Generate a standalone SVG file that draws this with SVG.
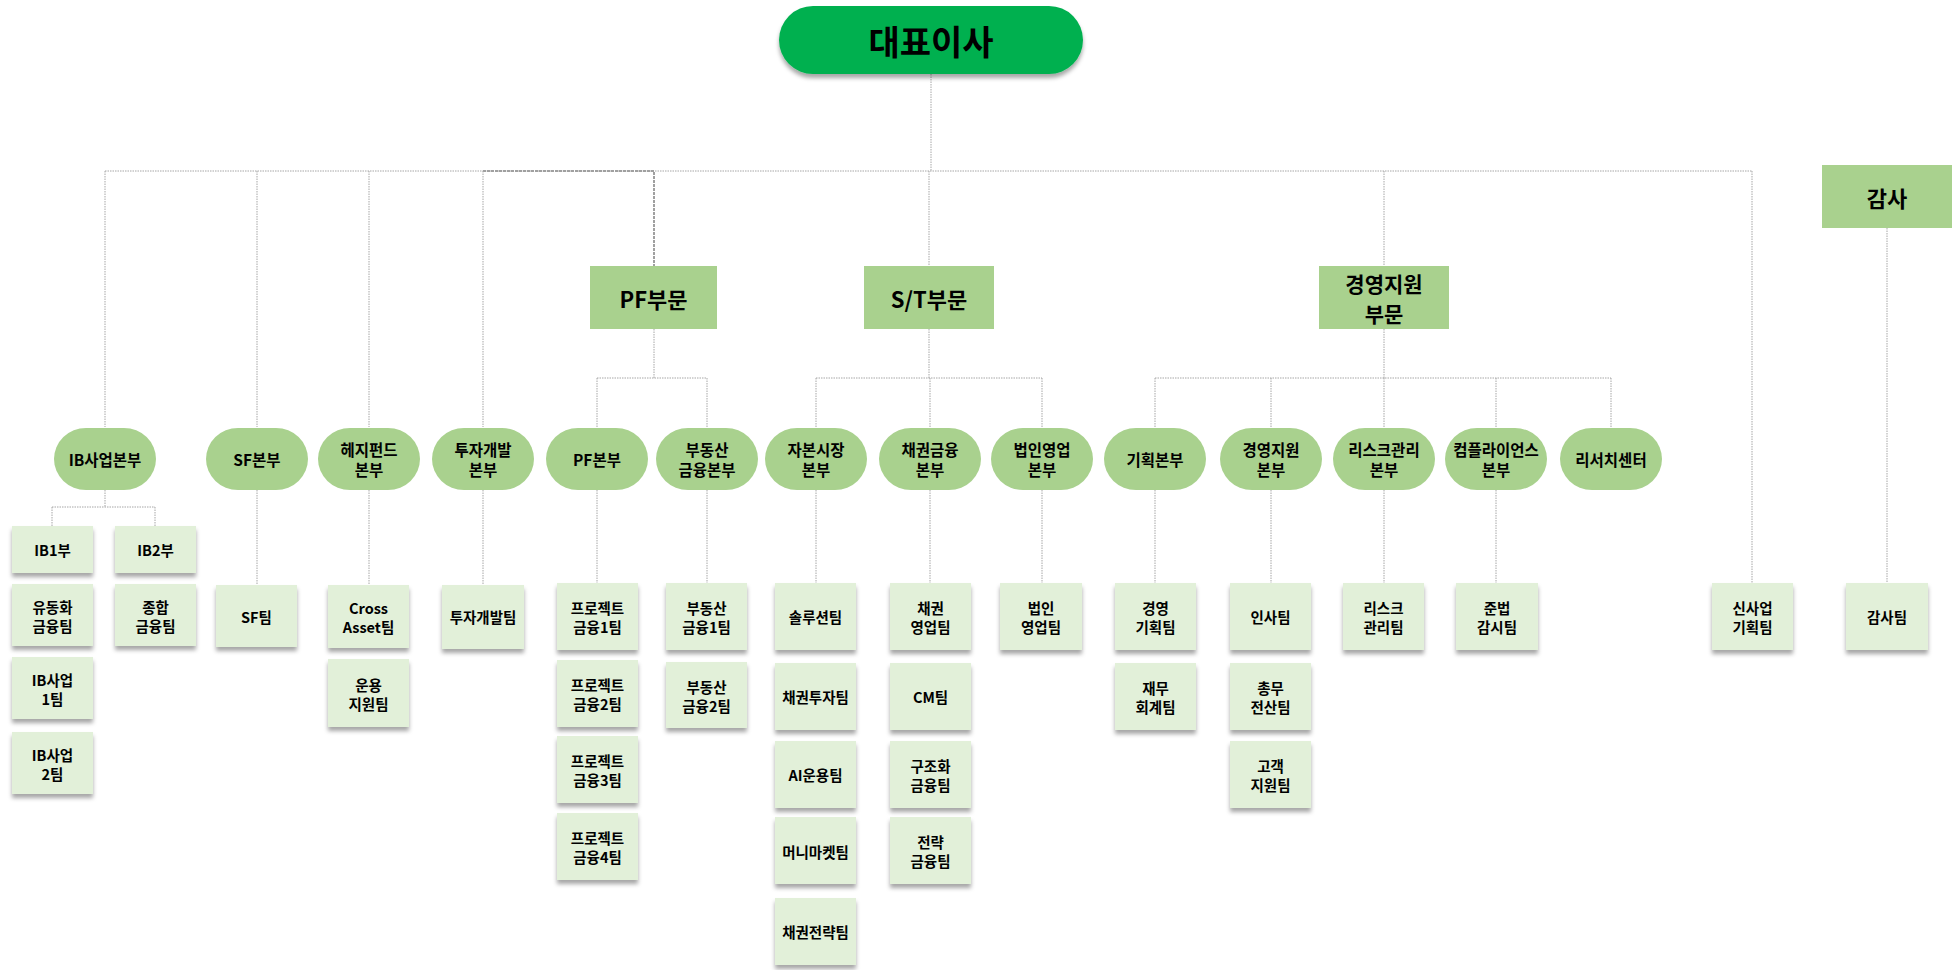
<svg xmlns="http://www.w3.org/2000/svg" width="1954" height="970" viewBox="0 0 1954 970">
<style>
text{font-family:"Noto Sans CJK KR","Malgun Gothic","Noto Sans",sans-serif;font-weight:bold;fill:#000;text-anchor:middle;dominant-baseline:central}
.ceo{fill:#00B050}
.div{fill:#A9D18E}
.pill{fill:#A9D18E}
.team{fill:#E2F0D9}
.t34{font-size:34px}
.t22{font-size:22px}
.t21{font-size:21px}
.t16{font-size:15.5px}
.t15{font-size:14.5px}
.ln{fill:none;stroke:#A6A6A6;stroke-width:1;stroke-dasharray:1.5 1}
.lnb{fill:none;stroke:#A0A0A0;stroke-width:2;stroke-dasharray:3 1}
</style>
<defs>
<filter id="sh" x="-20%" y="-20%" width="140%" height="150%">
<feDropShadow dx="0" dy="4" stdDeviation="2" flood-color="#000" flood-opacity="0.35"/>
</filter>
</defs>
<rect width="1954" height="970" fill="#fff"/>

<g id="connectors">
<path class="ln" d="M931 74V171M105 171H1752M105 171V427M257 171V427M369 171V427M929 171V266M1384 171V266M1752 171V583M1887 228V583"/>
<path class="lnb" d="M483 171H654V266"/>
<path class="ln" d="M483 171V427"/>
<path class="ln" d="M654 329V378M597 378H707M597 378V428M707 378V428"/>
<path class="ln" d="M929 329V378M816 378H1042M816 378V428M930 378V428M1042 378V428"/>
<path class="ln" d="M1384 329V378M1155 378H1611M1155 378V428M1271 378V428M1384 378V428M1496 378V428M1611 378V428"/>
<path class="ln" d="M105 490V507M52 507H155M52 507V526M155 507V526"/>
<path class="ln" d="M257 490V585M369 490V585M483 490V585M597 490V583M707 490V583M816 490V583M930 490V583M1042 490V583M1155 490V583M1271 490V583M1384 490V583M1496 490V583"/>
</g>

<g id="ceo"><rect class="ceo" x="779" y="6" width="304" height="68" rx="34" filter="url(#sh)"/><text class="t34" x="931" y="40">대표이사</text></g>

<g id="pf-division"><rect class="div" x="590" y="266" width="127" height="63"/><text class="t22" x="653.5" y="297.5">PF부문</text></g>
<g id="st-division"><rect class="div" x="864" y="266" width="130" height="63"/><text class="t22" x="929" y="297.5">S/T부문</text></g>
<g id="mgmt-division"><rect class="div" x="1319" y="266" width="130" height="63"/><text class="t21"><tspan x="1384" y="282.5">경영지원</tspan><tspan x="1384" y="312.5">부문</tspan></text></g>
<g id="audit"><rect class="div" x="1822" y="165" width="130" height="63"/><text class="t22" x="1887" y="196.5">감사</text></g>

<g id="ib-hq"><rect class="pill" x="54" y="428" width="102" height="62" rx="32" ry="31"/><text class="t16" x="105" y="459">IB사업본부</text></g>
<g id="sf-hq"><rect class="pill" x="206" y="428" width="102" height="62" rx="32" ry="31"/><text class="t16" x="257" y="459">SF본부</text></g>
<g id="hedge-hq"><rect class="pill" x="318" y="428" width="102" height="62" rx="32" ry="31"/><text class="t16"><tspan x="369" y="449">헤지펀드</tspan><tspan x="369" y="469">본부</tspan></text></g>
<g id="invest-hq"><rect class="pill" x="432" y="428" width="102" height="62" rx="32" ry="31"/><text class="t16"><tspan x="483" y="449">투자개발</tspan><tspan x="483" y="469">본부</tspan></text></g>
<g id="pf-hq"><rect class="pill" x="546" y="428" width="102" height="62" rx="32" ry="31"/><text class="t16" x="597" y="459">PF본부</text></g>
<g id="re-hq"><rect class="pill" x="656" y="428" width="102" height="62" rx="32" ry="31"/><text class="t16"><tspan x="707" y="449">부동산</tspan><tspan x="707" y="469">금융본부</tspan></text></g>
<g id="capital-hq"><rect class="pill" x="765" y="428" width="102" height="62" rx="32" ry="31"/><text class="t16"><tspan x="816" y="449">자본시장</tspan><tspan x="816" y="469">본부</tspan></text></g>
<g id="bond-hq"><rect class="pill" x="879" y="428" width="102" height="62" rx="32" ry="31"/><text class="t16"><tspan x="930" y="449">채권금융</tspan><tspan x="930" y="469">본부</tspan></text></g>
<g id="corp-hq"><rect class="pill" x="991" y="428" width="102" height="62" rx="32" ry="31"/><text class="t16"><tspan x="1042" y="449">법인영업</tspan><tspan x="1042" y="469">본부</tspan></text></g>
<g id="plan-hq"><rect class="pill" x="1104" y="428" width="102" height="62" rx="32" ry="31"/><text class="t16" x="1155" y="459">기획본부</text></g>
<g id="support-hq"><rect class="pill" x="1220" y="428" width="102" height="62" rx="32" ry="31"/><text class="t16"><tspan x="1271" y="449">경영지원</tspan><tspan x="1271" y="469">본부</tspan></text></g>
<g id="risk-hq"><rect class="pill" x="1333" y="428" width="102" height="62" rx="32" ry="31"/><text class="t16"><tspan x="1384" y="449">리스크관리</tspan><tspan x="1384" y="469">본부</tspan></text></g>
<g id="compliance-hq"><rect class="pill" x="1445" y="428" width="102" height="62" rx="32" ry="31"/><text class="t16"><tspan x="1496" y="449">컴플라이언스</tspan><tspan x="1496" y="469">본부</tspan></text></g>
<g id="research"><rect class="pill" x="1560" y="428" width="102" height="62" rx="32" ry="31"/><text class="t16" x="1611" y="459">리서치센터</text></g>

<g id="ib1"><rect class="team" x="12" y="526" width="81" height="47" filter="url(#sh)"/><text class="t15" x="52.5" y="549.5">IB1부</text></g>
<g id="ib2"><rect class="team" x="115" y="526" width="81" height="47" filter="url(#sh)"/><text class="t15" x="155.5" y="549.5">IB2부</text></g>
<g id="securitization"><rect class="team" x="12" y="584" width="81" height="62" filter="url(#sh)"/><text class="t15"><tspan x="52.5" y="605.5">유동화</tspan><tspan x="52.5" y="624.5">금융팀</tspan></text></g>
<g id="general-finance"><rect class="team" x="115" y="584" width="81" height="62" filter="url(#sh)"/><text class="t15"><tspan x="155.5" y="605.5">종합</tspan><tspan x="155.5" y="624.5">금융팀</tspan></text></g>
<g id="ib-team1"><rect class="team" x="12" y="657" width="81" height="62" filter="url(#sh)"/><text class="t15"><tspan x="52.5" y="678.5">IB사업</tspan><tspan x="52.5" y="697.5">1팀</tspan></text></g>
<g id="ib-team2"><rect class="team" x="12" y="732" width="81" height="62" filter="url(#sh)"/><text class="t15"><tspan x="52.5" y="753.5">IB사업</tspan><tspan x="52.5" y="772.5">2팀</tspan></text></g>

<g id="sf-team"><rect class="team" x="216" y="585" width="81" height="62" filter="url(#sh)"/><text class="t15" x="256.5" y="616">SF팀</text></g>
<g id="cross-asset"><rect class="team" x="328" y="585" width="81" height="63" filter="url(#sh)"/><text class="t15"><tspan x="368.5" y="607">Cross</tspan><tspan x="368.5" y="626">Asset팀</tspan></text></g>
<g id="ops-support"><rect class="team" x="328" y="659" width="81" height="68" filter="url(#sh)"/><text class="t15"><tspan x="368.5" y="683.5">운용</tspan><tspan x="368.5" y="702.5">지원팀</tspan></text></g>
<g id="invest-team"><rect class="team" x="442" y="585" width="82" height="64" filter="url(#sh)"/><text class="t15" x="483" y="616">투자개발팀</text></g>

<g id="pj1"><rect class="team" x="557" y="583" width="81" height="67" filter="url(#sh)"/><text class="t15"><tspan x="597.5" y="607">프로젝트</tspan><tspan x="597.5" y="626">금융1팀</tspan></text></g>
<g id="pj2"><rect class="team" x="557" y="660" width="81" height="67" filter="url(#sh)"/><text class="t15"><tspan x="597.5" y="684">프로젝트</tspan><tspan x="597.5" y="703">금융2팀</tspan></text></g>
<g id="pj3"><rect class="team" x="557" y="736" width="81" height="67" filter="url(#sh)"/><text class="t15"><tspan x="597.5" y="760">프로젝트</tspan><tspan x="597.5" y="779">금융3팀</tspan></text></g>
<g id="pj4"><rect class="team" x="557" y="813" width="81" height="67" filter="url(#sh)"/><text class="t15"><tspan x="597.5" y="837">프로젝트</tspan><tspan x="597.5" y="856">금융4팀</tspan></text></g>

<g id="re1"><rect class="team" x="666" y="583" width="81" height="67" filter="url(#sh)"/><text class="t15"><tspan x="706.5" y="607">부동산</tspan><tspan x="706.5" y="626">금융1팀</tspan></text></g>
<g id="re2"><rect class="team" x="666" y="662" width="81" height="66" filter="url(#sh)"/><text class="t15"><tspan x="706.5" y="686">부동산</tspan><tspan x="706.5" y="705">금융2팀</tspan></text></g>

<g id="solution"><rect class="team" x="775" y="583" width="81" height="67" filter="url(#sh)"/><text class="t15" x="815.5" y="616">솔루션팀</text></g>
<g id="bond-invest"><rect class="team" x="775" y="663" width="81" height="67" filter="url(#sh)"/><text class="t15" x="815.5" y="696">채권투자팀</text></g>
<g id="ai"><rect class="team" x="775" y="741" width="81" height="67" filter="url(#sh)"/><text class="t15" x="815.5" y="774">AI운용팀</text></g>
<g id="money-market"><rect class="team" x="775" y="817" width="81" height="67" filter="url(#sh)"/><text class="t15" x="815.5" y="851">머니마켓팀</text></g>
<g id="bond-strategy"><rect class="team" x="775" y="898" width="81" height="67" filter="url(#sh)"/><text class="t15" x="815.5" y="931">채권전략팀</text></g>

<g id="bond-sales"><rect class="team" x="890" y="583" width="81" height="67" filter="url(#sh)"/><text class="t15"><tspan x="930.5" y="607">채권</tspan><tspan x="930.5" y="626">영업팀</tspan></text></g>
<g id="cm"><rect class="team" x="890" y="663" width="81" height="67" filter="url(#sh)"/><text class="t15" x="930.5" y="696">CM팀</text></g>
<g id="structured"><rect class="team" x="890" y="741" width="81" height="67" filter="url(#sh)"/><text class="t15"><tspan x="930.5" y="765">구조화</tspan><tspan x="930.5" y="784">금융팀</tspan></text></g>
<g id="strategic"><rect class="team" x="890" y="817" width="81" height="67" filter="url(#sh)"/><text class="t15"><tspan x="930.5" y="841">전략</tspan><tspan x="930.5" y="860">금융팀</tspan></text></g>

<g id="corp-sales"><rect class="team" x="1000" y="583" width="82" height="67" filter="url(#sh)"/><text class="t15"><tspan x="1041" y="607">법인</tspan><tspan x="1041" y="626">영업팀</tspan></text></g>

<g id="mgmt-plan"><rect class="team" x="1115" y="583" width="81" height="67" filter="url(#sh)"/><text class="t15"><tspan x="1155.5" y="607">경영</tspan><tspan x="1155.5" y="626">기획팀</tspan></text></g>
<g id="finance"><rect class="team" x="1115" y="663" width="81" height="67" filter="url(#sh)"/><text class="t15"><tspan x="1155.5" y="687">재무</tspan><tspan x="1155.5" y="706">회계팀</tspan></text></g>

<g id="hr"><rect class="team" x="1230" y="583" width="81" height="67" filter="url(#sh)"/><text class="t15" x="1270.5" y="616">인사팀</text></g>
<g id="general-affairs"><rect class="team" x="1230" y="663" width="81" height="67" filter="url(#sh)"/><text class="t15"><tspan x="1270.5" y="687">총무</tspan><tspan x="1270.5" y="706">전산팀</tspan></text></g>
<g id="customer"><rect class="team" x="1230" y="741" width="81" height="67" filter="url(#sh)"/><text class="t15"><tspan x="1270.5" y="765">고객</tspan><tspan x="1270.5" y="784">지원팀</tspan></text></g>

<g id="risk-team"><rect class="team" x="1343" y="583" width="81" height="67" filter="url(#sh)"/><text class="t15"><tspan x="1383.5" y="607">리스크</tspan><tspan x="1383.5" y="626">관리팀</tspan></text></g>
<g id="compliance-team"><rect class="team" x="1456" y="583" width="82" height="67" filter="url(#sh)"/><text class="t15"><tspan x="1497" y="607">준법</tspan><tspan x="1497" y="626">감시팀</tspan></text></g>
<g id="new-biz"><rect class="team" x="1712" y="583" width="81" height="67" filter="url(#sh)"/><text class="t15"><tspan x="1752.5" y="607">신사업</tspan><tspan x="1752.5" y="626">기획팀</tspan></text></g>
<g id="audit-team"><rect class="team" x="1846" y="583" width="82" height="67" filter="url(#sh)"/><text class="t15" x="1887" y="616">감사팀</text></g>
</svg>
